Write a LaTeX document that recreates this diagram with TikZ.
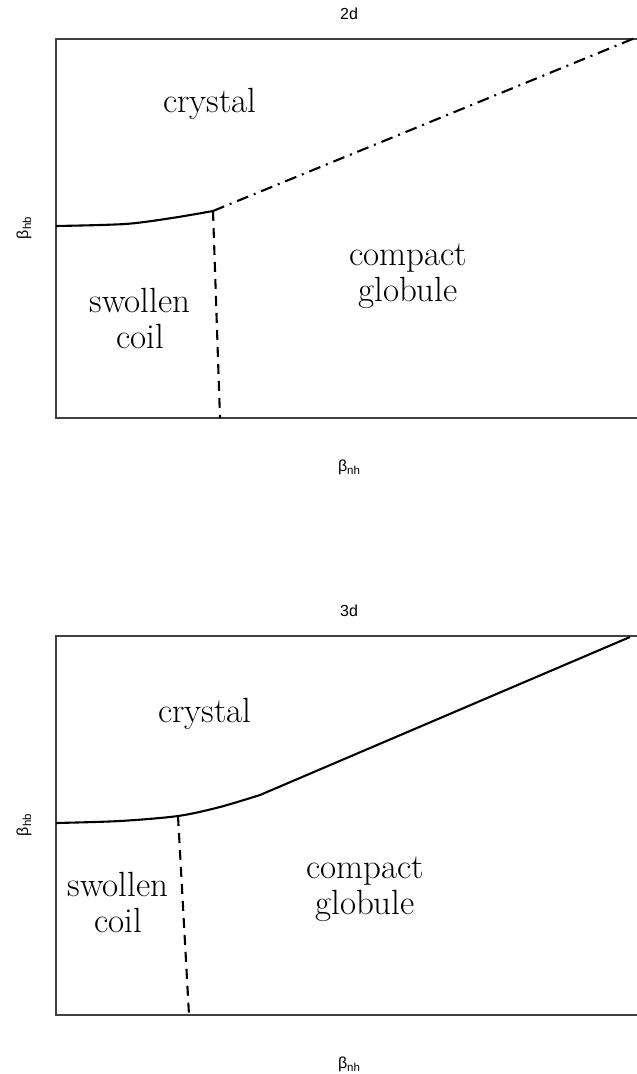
\documentclass[tikz,border=0pt]{standalone}
\usepackage{fontspec}
\usepackage{tikz}
\newfontfamily\rfont{Liberation Sans}
\newcommand{\betasub}[1]{β\raisebox{-0.35ex}{\fontsize{11.5}{13}\selectfont #1}}

\begin{document}
\begin{tikzpicture}[
    x=1pt, y=-1pt,
    frame/.style={draw=black!75, line width=1.4pt},
    boundary/.style={line width=2.1pt, line join=round},
    coilline/.style={boundary, dash pattern=on 10pt off 7pt},
    crystalline/.style={boundary, dash pattern=on 12pt off 6pt on 2pt off 6pt},
    phase/.style={font=\fontsize{35}{36}\selectfont, align=center},
    rlabel/.style={font=\rfont\fontsize{16}{18}\selectfont}
]
    \useasboundingbox (0,0) rectangle (637,1074);

    % Frames, titles and axes
    \foreach \t/\oy in {2d/0, 3d/597} {
        \draw[frame] (642,39+\oy) -- (56,39+\oy) -- (56,418+\oy) -- (642,418+\oy);
        \node[rlabel] (title\t) at (349,14+\oy) {\t};
        \node[rlabel] (xlab\t) at (349,467+\oy) {\betasub{nh}};
        \node[rlabel, rotate=90] (ylab\t) at (24,228+\oy) {\betasub{hb}};
    }

    % 2d diagram
    \coordinate (tp2) at (213,211);
    \draw[boundary] plot[smooth] coordinates {(56,226) (125,224) (172,218) (tp2)};
    \draw[crystalline] (tp2) -- (635,38);
    \draw[coilline] (tp2) -- (220,418);
    \node[phase] (crys2) at (210,104) {crystal};
    \node[phase] (glob2) at (408,276) {compact\\globule};
    \node[phase] (coil2) at (140,318) {swollen\\coil};

    % 3d diagram
    \coordinate (tp3) at (178,816);
    \coordinate (kink3) at (260,795);
    \draw[boundary] plot[smooth] coordinates {(56,823) (120,821) (tp3) (220,807) (kink3)} -- (630,637);
    \draw[coilline] (tp3) -- (189,1015);
    \node[phase] (crys3) at (205,714) {crystal};
    \node[phase] (glob3) at (365,889) {compact\\globule};
    \node[phase] (coil3) at (118,902) {swollen\\coil};
\end{tikzpicture}
\end{document}
